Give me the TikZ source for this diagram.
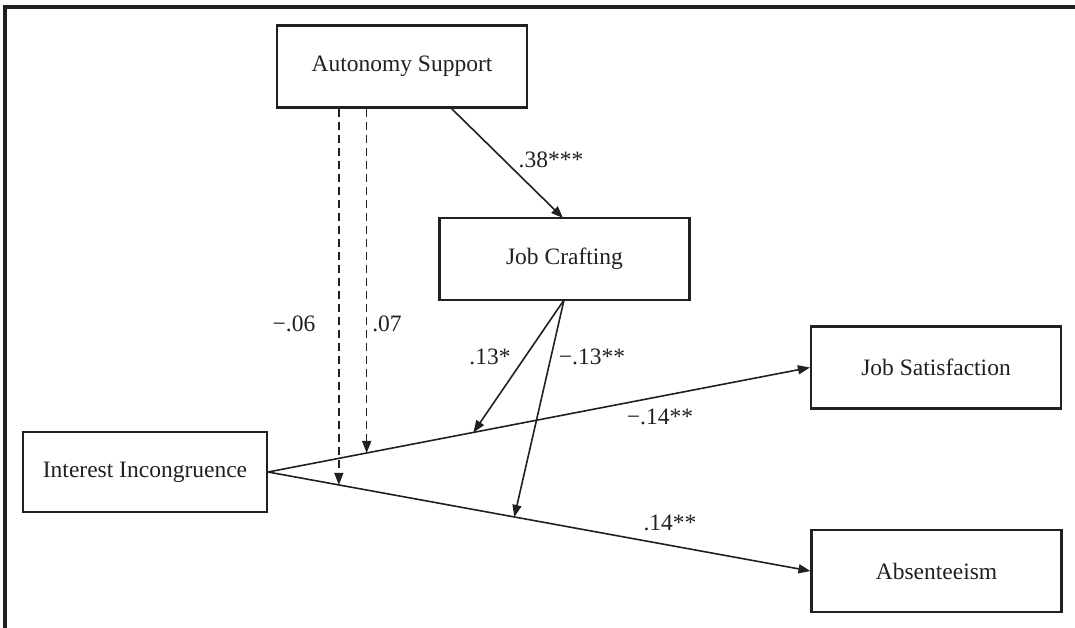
\documentclass[tikz,border=0pt]{standalone}
\usepackage{fontspec}
\setmainfont{Liberation Serif}
\usetikzlibrary{arrows.meta,calc}
\definecolor{ink}{HTML}{231F20}
\tikzset{
  box/.style={draw=ink, line width=2.1pt, minimum width=250pt, minimum height=82pt, inner sep=0pt, text=ink, font=\fontsize{23.5}{28}\selectfont},
  path/.style={draw=ink, line width=1.6pt, -{Triangle[length=12pt,width=9pt]}},
  dpath/.style={path, dash pattern=on 8pt off 5pt},
  lab/.style={text=ink, font=\fontsize{23.5}{28}\selectfont, inner sep=0pt},
}
\begin{document}
\begin{tikzpicture}[x=1pt,y=-1pt]
\useasboundingbox (0,0) rectangle (1075,627);
\draw[ink, line width=3.2pt] (5,640) -- (5,7) -- (1080,7);
\node[box] (AS) at (402,66.5) {Autonomy Support};
\node[box] (JC) at (564.5,259) {Job Crafting};
\node[box] (JS) at (936,367.5) {Job Satisfaction};
\node[box] (AB) at (936.5,571) {Absenteeism};
\node[box, minimum width=244pt, minimum height=80pt] (II) at (145,472) {Interest Incongruence};
% main paths
\draw[path] (II.east) -- (JS.west);
\draw[path] (II.east) -- (AB.west);
\coordinate (u1) at ($(II.east)!0.182!(JS.west)$);
\coordinate (u2) at ($(II.east)!0.379!(JS.west)$);
\coordinate (l1) at ($(II.east)!0.1305!(AB.west)$);
\coordinate (l2) at ($(II.east)!0.454!(AB.west)$);
\coordinate (asout) at (451,108);
\coordinate (jcin) at (563,218);
\coordinate (jcout) at (564,300);
\draw[path] (asout) -- (jcin);
\draw[dpath] (l1 |- AS.south) -- (l1);
\draw[dpath] (u1 |- AS.south) -- (u1);
\draw[path] (jcout) -- (u2);
\draw[path] (jcout) -- (l2);
% labels
\node[lab] (t1) at (551,160) {.38***};
\node[lab] (t2) at (294,324) {−.06};
\node[lab] (t3) at (387,324) {.07};
\node[lab] (t4) at (490,357) {.13*};
\node[lab] (t5) at (592,357) {−.13**};
\node[lab] (t6) at (660,417) {−.14**};
\node[lab] (t7) at (670,523) {.14**};
\end{tikzpicture}
\end{document}
